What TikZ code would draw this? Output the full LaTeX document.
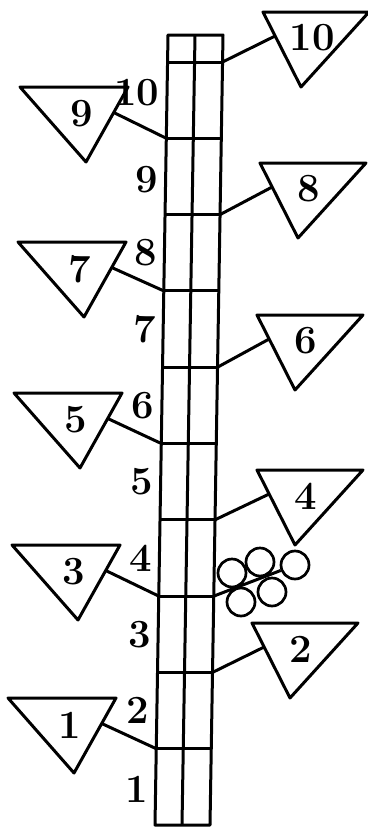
\documentclass[tikz,border=0pt]{standalone}
\usetikzlibrary{calc}

\begin{document}
\begin{tikzpicture}[
  x=1pt, y=-1pt,
  line width=3pt, line join=round,
  num/.style={font=\fontsize{40}{40}\selectfont\bfseries, inner sep=0pt},
  tri/.style={draw=black},
  ball/.style={draw=black, circle, minimum size=28pt, inner sep=0pt, line width=2.7pt},
]
\useasboundingbox (0,0) rectangle (367,827);

% column boundaries
\foreach \i in {0,...,10}{
  \pgfmathsetmacro\yb{825-76.3*\i}
  \pgfmathsetmacro\xl{155+13*(825-\yb)/790}
  \coordinate (L\i) at (\xl,\yb);
  \coordinate (M\i) at (\xl+27,\yb);
  \coordinate (R\i) at (\xl+55,\yb);
}
\coordinate (Lt) at (168,35);
\coordinate (Mt) at (195,35);
\coordinate (Rt) at (223,35);

\draw (L0) -- (Lt) -- (Rt) -- (R0) -- cycle;
\draw (M0) -- (Mt);
\foreach \i in {1,...,10}
  \draw (L\i) -- (R\i);

% segment numbers
\foreach \i/\dy [evaluate=\i as \j using int(\i-1)] in
  {1/3,2/0,3/0,4/0,5/0,6/0,7/0,8/0,9/3,10/-8}
  \node[num, anchor=east] (s\i) at ($(L\j)!0.5!(L\i)+(-6,\dy)$) {\i};

% triangles on the right
\foreach \n/\xo/\yo in {10/263/12, 8/260/163, 6/257/315, 4/257/470, 2/252/623}{
  \draw[tri] (\xo,\yo) coordinate (t\n a) -- ++(106,0) coordinate (t\n b)
    -- (\xo+38,\yo+75) coordinate (t\n c) -- cycle;
  \node[num] (n\n) at (\xo+49,\yo+26) {\n};
  \coordinate (h\n) at ($(t\n a)!0.32!(t\n c)$);
  \draw (h\n) -- (R\n);
}

% triangles on the left
\foreach \n/\xo/\yo in {9/20/87, 7/18/242, 5/14/393, 3/12/545, 1/8/698}{
  \draw[tri] (\xo,\yo) coordinate (t\n a) -- ++(108,0) coordinate (t\n b)
    -- (\xo+66,\yo+75) coordinate (t\n c) -- cycle;
  \node[num] (n\n) at (\xo+62,\yo+27) {\n};
  \coordinate (h\n) at ($(t\n b)!0.34!(t\n c)$);
  \draw (h\n) -- (L\n);
}

% balls
\node[ball] (b1) at (232,573) {};
\node[ball] (b2) at (260,562) {};
\node[ball] (b3) at (295,565) {};
\node[ball] (b4) at (241,602) {};
\node[ball] (b5) at (272,592) {};
\draw (R3) -- (b3);
\end{tikzpicture}
\end{document}
